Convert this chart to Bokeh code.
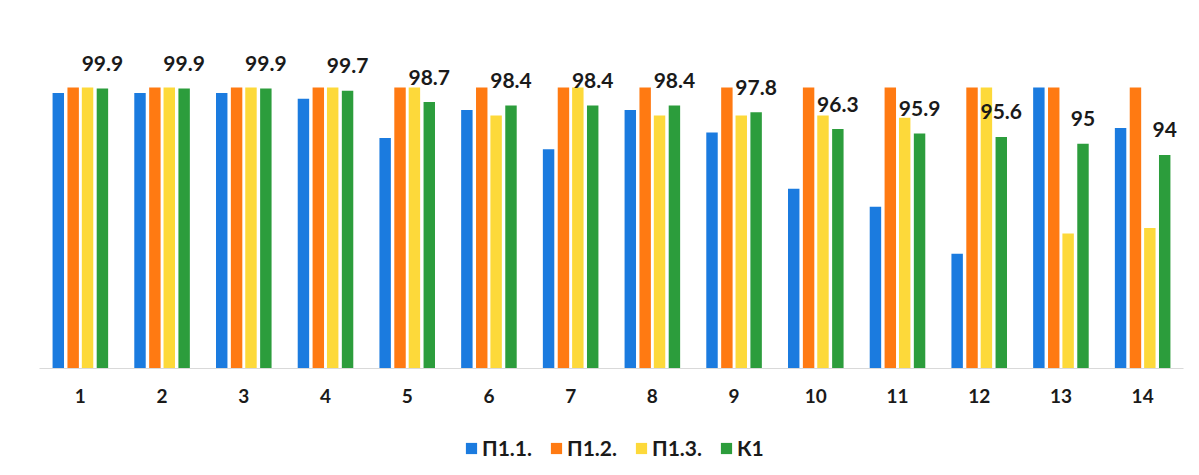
from bokeh.plotting import figure
from bokeh.layouts import column
from bokeh.models import ColumnDataSource, FactorRange, Range1d, Legend, LegendItem
from bokeh.transform import dodge
from bokeh.core.properties import value
from bokeh.embed import file_html
from bokeh.resources import INLINE

groups = ["1", "2", "3", "4", "5", "6", "7", "8", "9", "10", "11", "12", "13", "14"]
p11 = [99.5, 99.5, 99.5, 99.0, 95.5, 98.0, 94.5, 98.0, 96.0, 91.0, 89.4, 85.2, 100.0, 96.4]
p12 = [100.0, 100.0, 100.0, 100.0, 100.0, 100.0, 100.0, 100.0, 100.0, 100.0, 100.0, 100.0, 100.0, 100.0]
p13 = [100.0, 100.0, 100.0, 100.0, 100.0, 97.5, 100.0, 97.5, 97.5, 97.5, 97.3, 100.0, 87.0, 87.5]
k1 = [99.9, 99.9, 99.9, 99.7, 98.7, 98.4, 98.4, 98.4, 97.8, 96.3, 95.9, 95.6, 95.0, 94.0]
series_names = ["П1.1.", "П1.2.", "П1.3.", "К1"]
colors = ["#1B7BDF", "#FF7A12", "#FDD93A", "#2C9D3C"]

k1_labels = [f"{v:g}" for v in k1]

src = ColumnDataSource(dict(g=groups, p11=p11, p12=p12, p13=p13, k1=k1, lab=k1_labels))

FONT = "Lato"
y_min = 75.0
px_per_unit = 11.24
top_border = 18
H = 350

p = figure(frame_width=1144, frame_height=H, x_range=FactorRange(*groups),
           y_range=Range1d(y_min, y_min + H / px_per_unit),
           output_backend="svg", toolbar_location=None,
           min_border_left=39, min_border_right=8,
           min_border_top=top_border, min_border_bottom=55)

offsets = [-0.27, -0.088, 0.088, 0.27]
cols = ["p11", "p12", "p13", "k1"]
for c, off, col in zip(cols, offsets, colors):
    p.vbar(x=dodge("g", off, range=p.x_range), top=c, bottom=y_min, width=0.14,
           source=src, fill_color=col, line_color=None)

p.text(x=dodge("g", 0.27, range=p.x_range), y="k1", text="lab", source=src,
       text_align="center", text_baseline="alphabetic", y_offset=-25,
       text_font=value(FONT), text_font_style="bold", text_font_size="21px",
       text_color="#1a1a1a")

p.yaxis.visible = False
p.xgrid.visible = False
p.ygrid.visible = False
p.outline_line_color = None

xa = p.xaxis[0]
xa.axis_line_color = "#D9D9D9"
xa.axis_line_width = 1
xa.major_tick_line_color = None
xa.minor_tick_line_color = None
xa.major_tick_out = 0
xa.major_tick_in = 0
xa.major_label_standoff = 20
xa.major_label_text_font = FONT
xa.major_label_text_font_style = "bold"
xa.major_label_text_font_size = "19px"
xa.major_label_text_color = "#1a1a1a"

# legend strip below the chart (zero-size placeholder quads carry the legend swatches)
p2 = figure(width=1191, height=52, x_range=Range1d(0, 1), y_range=Range1d(0, 1),
            output_backend="svg", toolbar_location=None, min_border=0)
p2.axis.visible = False
p2.xgrid.visible = False
p2.ygrid.visible = False
p2.outline_line_color = None
leg_rends = []
for col in colors:
    leg_rends.append(p2.quad(left=[0.5], right=[0.5], top=[0], bottom=[0],
                             fill_color=col, line_color=None))

legend = Legend(items=[LegendItem(label=n, renderers=[r]) for n, r in zip(series_names, leg_rends)],
                orientation="horizontal", location=(425, 15),
                label_text_font=FONT, label_text_font_style="bold",
                label_text_font_size="21px", label_text_color="#1a1a1a",
                glyph_width=14, glyph_height=14, label_standoff=4, spacing=17,
                border_line_color=None, background_fill_alpha=0, margin=0, padding=4)
p2.add_layout(legend, "center")

open("out.html", "w").write(file_html(column(p, p2, spacing=0), INLINE))
